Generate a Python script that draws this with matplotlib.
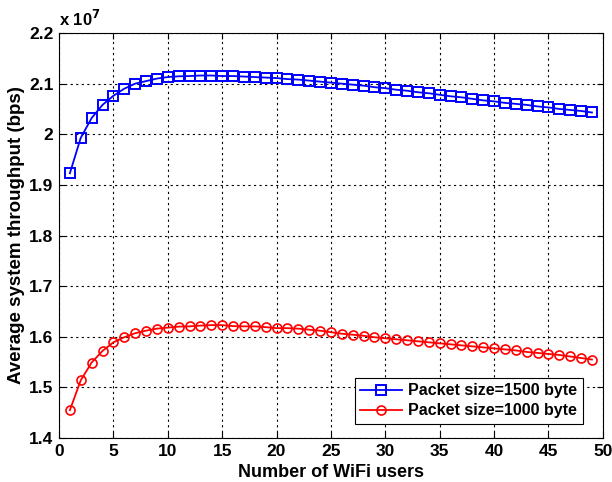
import matplotlib
matplotlib.use("Agg")
import matplotlib.pyplot as plt
import numpy as np

plt.rcParams['font.family'] = ['Liberation Sans', 'DejaVu Sans']
plt.rcParams['font.weight'] = 'bold'

users = list(range(1, 50))

# throughput in units of 1e7 bps
tput_1500 = [1.923, 1.993, 2.032, 2.058, 2.076, 2.090, 2.100, 2.105, 2.110, 2.113,
             2.1145, 2.115, 2.116, 2.116, 2.115, 2.115, 2.114, 2.113, 2.112, 2.111,
             2.109, 2.108, 2.106, 2.104, 2.102, 2.100, 2.098, 2.096, 2.093, 2.091,
             2.088, 2.086, 2.083, 2.081, 2.078, 2.075, 2.073, 2.070, 2.067, 2.065,
             2.062, 2.060, 2.058, 2.055, 2.053, 2.050, 2.048, 2.046, 2.043]

tput_1000 = [1.455, 1.514, 1.549, 1.572, 1.589, 1.599, 1.607, 1.612, 1.616, 1.618,
             1.620, 1.6205, 1.622, 1.623, 1.623, 1.621, 1.6205, 1.6205, 1.619, 1.617,
             1.617, 1.616, 1.614, 1.612, 1.609, 1.606, 1.604, 1.602, 1.599, 1.597,
             1.595, 1.593, 1.591, 1.589, 1.587, 1.585, 1.583, 1.581, 1.579, 1.577,
             1.575, 1.573, 1.570, 1.568, 1.566, 1.564, 1.561, 1.558, 1.555]

labels = ["Packet size=1500 byte", "Packet size=1000 byte"]

fig = plt.figure(figsize=(6.12, 4.82), dpi=100)
ax = fig.add_axes([0.0964, 0.0913, 0.8886, 0.8402])

ax.plot(users, tput_1500, color='#0000ff', marker='s', markersize=6.5,
        markerfacecolor='none', markeredgewidth=1.4, linewidth=1.3, label=labels[0])
ax.plot(users, tput_1000, color='#ff0000', marker='o', markersize=6.5,
        markerfacecolor='none', markeredgewidth=1.2, linewidth=1.3, label=labels[1])

ax.set_xlim(0, 50)
ax.set_ylim(1.4, 2.2)
ax.set_xticks(np.arange(0, 51, 5))
ax.set_yticks(np.arange(1.4, 2.21, 0.1))
ax.set_yticklabels([f"{v:g}" for v in np.round(np.arange(1.4, 2.21, 0.1), 1)])
ax.tick_params(direction='in', labelsize=12.5, length=4, width=0.8, top=True, right=True,
               pad=4)
ax.grid(True, color='black', linestyle=(0, (2, 3)), linewidth=0.8)

for s in ax.spines.values():
    s.set_linewidth(0.8)

ax.set_xlabel("Number of WiFi users", fontsize=13, fontweight='bold', labelpad=4)
ax.set_ylabel("Average system throughput (bps)", fontsize=13.5, fontweight='bold', labelpad=3)

ax.text(0.0, 1.01, r"x 10$^{7}$", transform=ax.transAxes, fontsize=12,
        fontweight='bold', ha='left', va='bottom')

leg = ax.legend(loc='lower right', bbox_to_anchor=(0.963, 0.035), borderaxespad=0,
                fontsize=11.5, fancybox=False, framealpha=1, edgecolor='black',
                handlelength=2.6, borderpad=0.35, labelspacing=0.3, handletextpad=0.4)
leg.get_frame().set_linewidth(0.8)

fig.savefig("out.png", dpi=100)
